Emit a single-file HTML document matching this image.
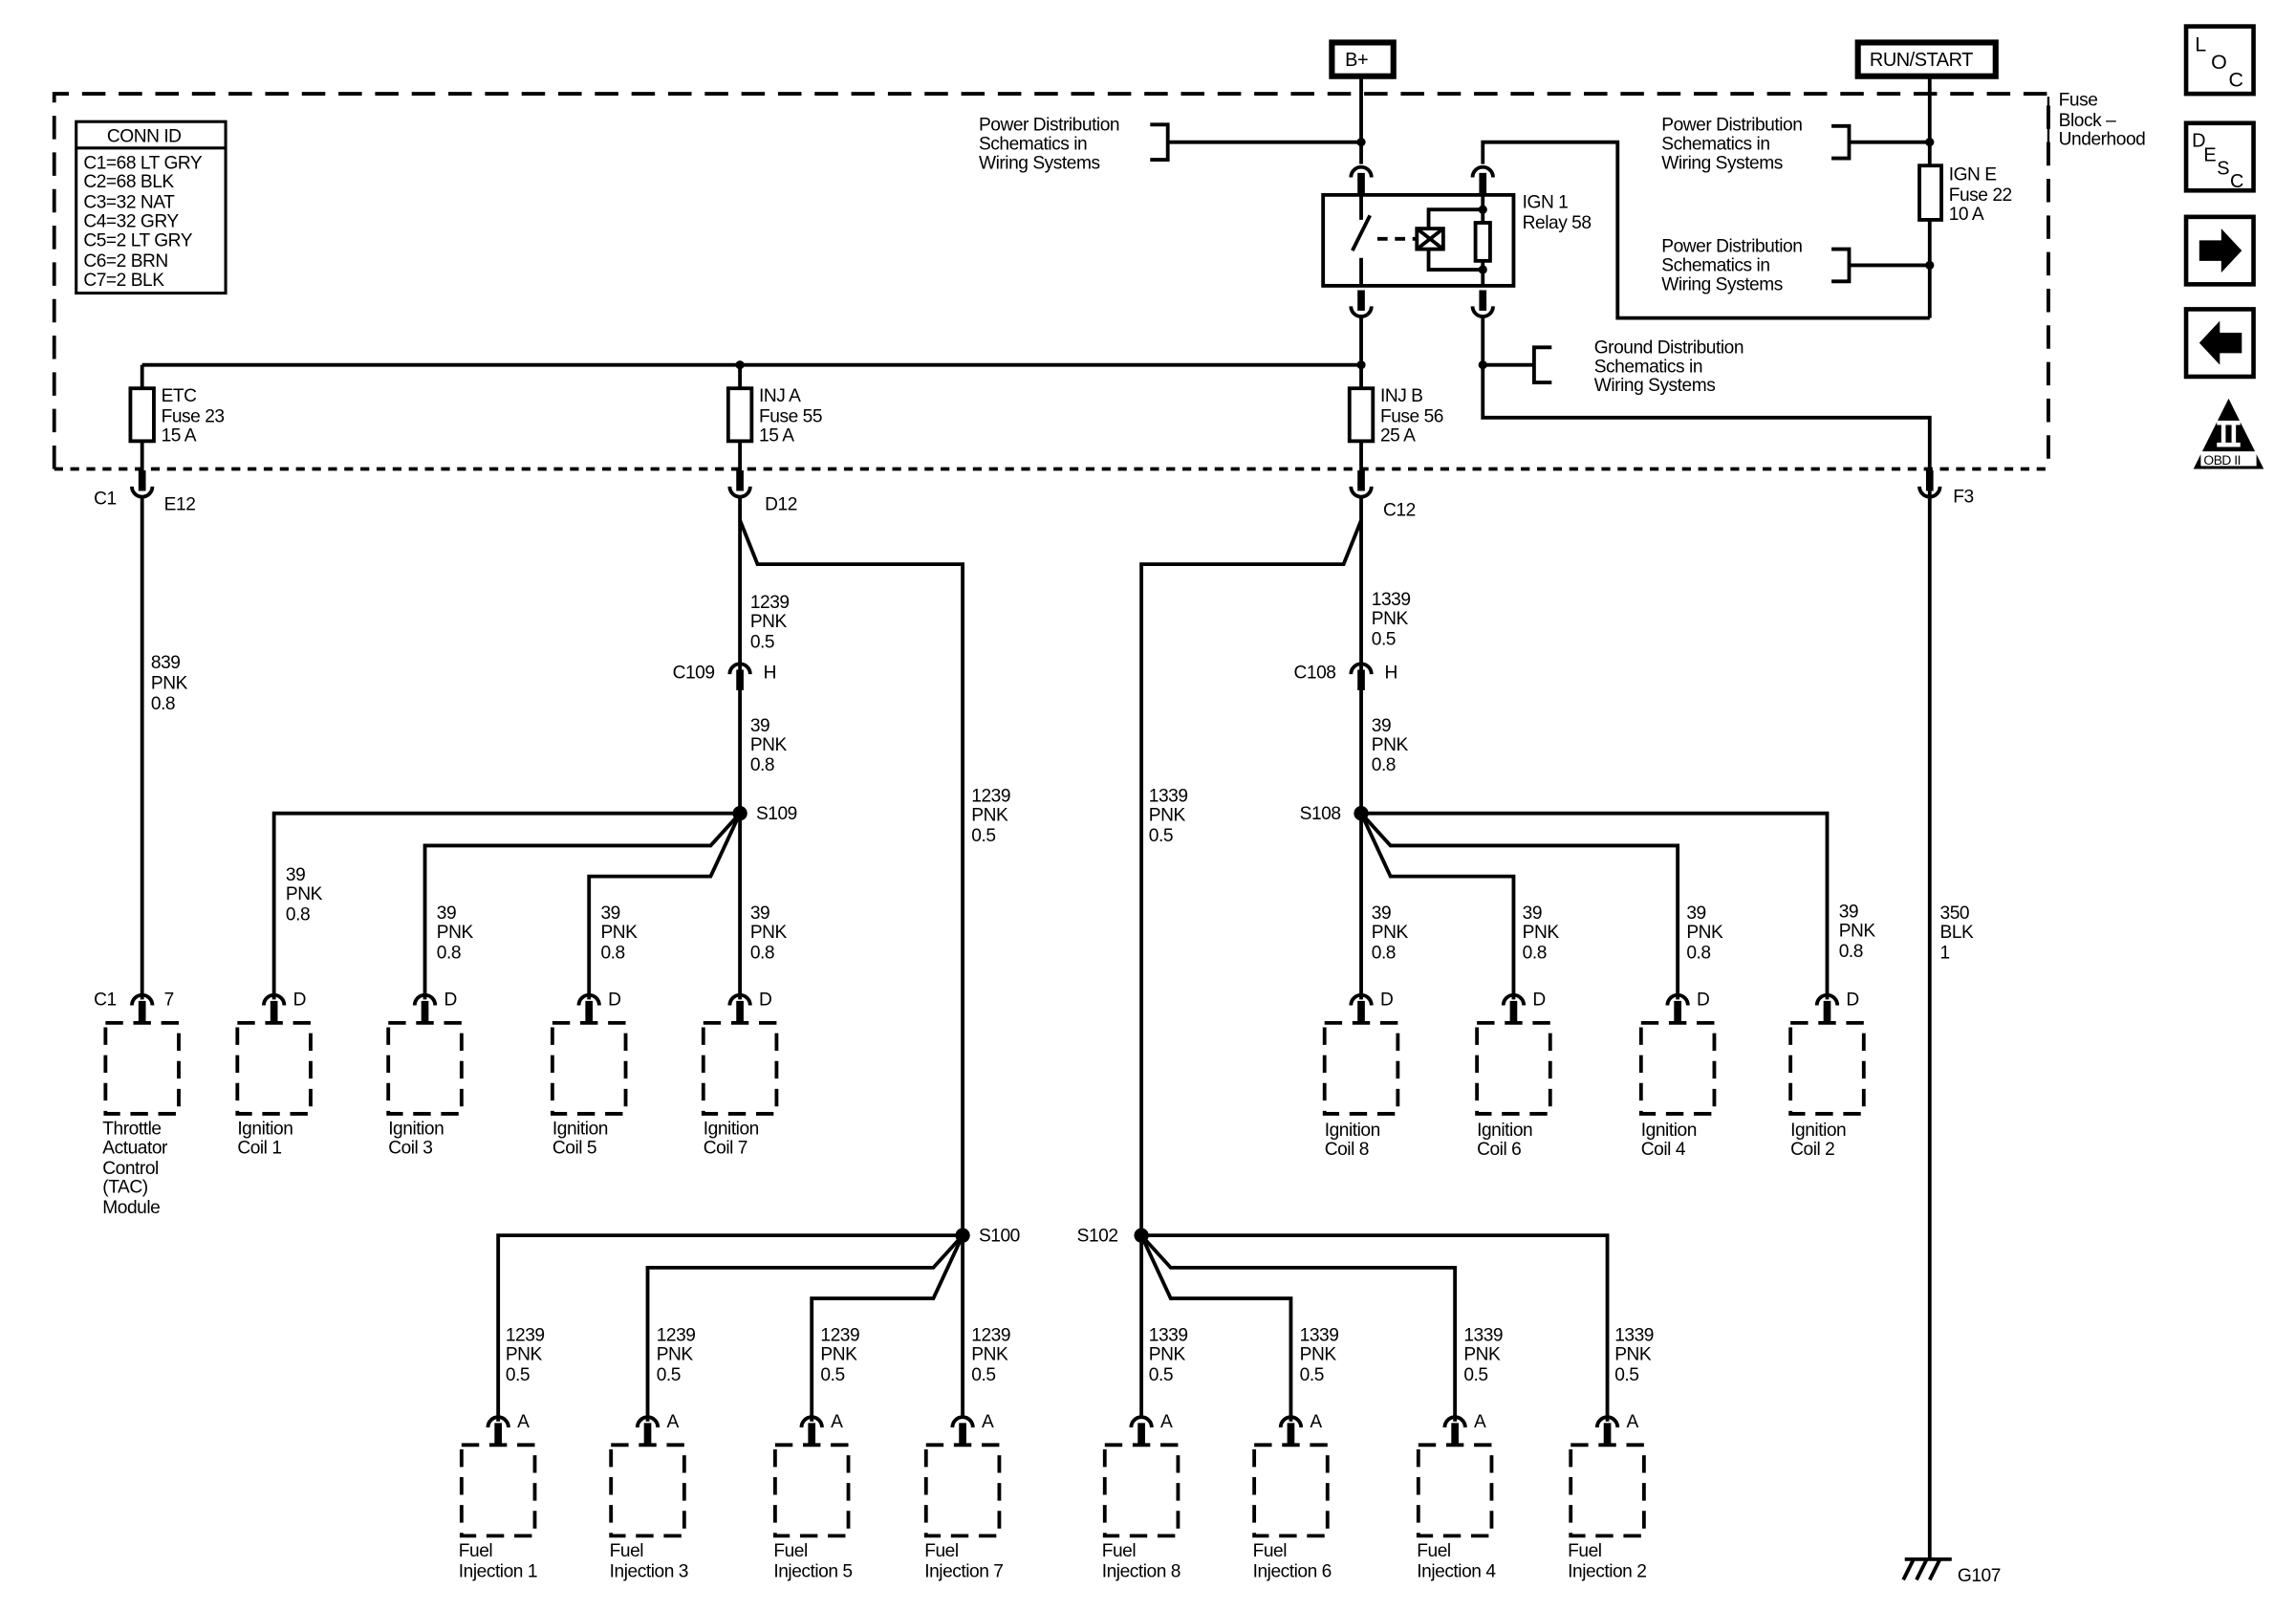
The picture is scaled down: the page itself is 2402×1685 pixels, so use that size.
<!DOCTYPE html>
<html><head><meta charset="utf-8"><style>
html,body{margin:0;padding:0;background:#fff}
svg{display:block}
text{font-family:"Liberation Sans",sans-serif;font-size:12.5px;fill:#000;letter-spacing:-0.3px}
</style></head><body>
<svg width="2402" height="1685" viewBox="0 0 1567 1099.3" preserveAspectRatio="none" xmlns="http://www.w3.org/2000/svg">
<defs>
<g id="cu"><path d="M-7,6 A7,7 0 0 1 7,6" fill="none" stroke="#000" stroke-width="2.5"/><line x1="0" y1="3" x2="0" y2="17" stroke="#000" stroke-width="5"/></g>
<g id="cd"><path d="M-7,-6 A7,7 0 0 0 7,-6" fill="none" stroke="#000" stroke-width="2.5"/><line x1="0" y1="-3" x2="0" y2="-17" stroke="#000" stroke-width="5"/></g>
<rect id="comp" x="-25" y="0" width="50" height="62" fill="none" stroke="#000" stroke-width="2.5" stroke-dasharray="12,7"/>
</defs>
<g stroke="#000" stroke-width="2.5" fill="none">
<path d="M37,320 V64 H1398 V320" stroke-dasharray="16,9"/>
<line x1="37" y1="320" x2="1398" y2="320" stroke-dasharray="6,5"/>
<rect x="909" y="29" width="42" height="23" stroke-width="4"/>
<rect x="1268" y="29" width="94" height="23" stroke-width="4"/>
<line x1="929" y1="52" x2="929" y2="112"/>
<line x1="797" y1="97" x2="929" y2="97"/>
<path d="M785,85 H797 V109 H785"/>
<rect x="903" y="133" width="130" height="62"/>
<path d="M929,133 V150 M935,147 L923,171 M929,176 V195"/>
<line x1="940" y1="163" x2="966" y2="163" stroke-dasharray="7,5"/>
<rect x="967" y="156" width="18" height="14"/>
<path d="M967,156 L985,170 M985,156 L967,170"/>
<rect x="1007" y="152" width="10" height="26"/>
<path d="M1012,133 V152 M1012,178 V195 M975,156 V143 H1012 M975,170 V184 H1012"/>
<path d="M1012,112 V97 H1104 V217 H1317"/>
<line x1="1317" y1="52" x2="1317" y2="113"/>
<rect x="1310" y="113" width="15" height="37"/>
<line x1="1317" y1="150" x2="1317" y2="217"/>
<path d="M1250,86 H1262 V108 H1250 M1262,97 H1317"/>
<path d="M1250,170 H1262 V192 H1250 M1262,181 H1317"/>
<line x1="929" y1="217" x2="929" y2="265"/>
<rect x="921" y="265" width="16" height="36"/>
<line x1="929" y1="301" x2="929" y2="325"/>
<path d="M1012,217 V285 H1317 V1063"/>
<path d="M1012,249 H1047 M1059,237 H1047 V261 H1059"/>
<line x1="97" y1="249" x2="929" y2="249"/>
<line x1="97" y1="249" x2="97" y2="265"/><rect x="89" y="265" width="16" height="36"/><line x1="97" y1="301" x2="97" y2="325"/>
<line x1="505" y1="249" x2="505" y2="265"/><rect x="497" y="265" width="16" height="36"/><line x1="505" y1="301" x2="505" y2="325"/>
<line x1="97" y1="340" x2="97" y2="682"/>
<line x1="505" y1="340" x2="505" y2="682"/>
<path d="M505,355 L517,385 H657 V968"/>
<line x1="929" y1="340" x2="929" y2="682"/>
<path d="M929,355 L917,385 H779 V968"/>
<path d="M505,555 H187 V682"/>
<path d="M505,555 L485,577 H290 V682"/>
<path d="M505,555 L485,598 H402 V682"/>
<path d="M929,555 H1247 V682"/>
<path d="M929,555 L949,577 H1145 V682"/>
<path d="M929,555 L949,598 H1033 V682"/>
<path d="M657,843 H340 V970"/>
<path d="M657,843 L637,865 H442 V970"/>
<path d="M657,843 L637,886 H554 V970"/>
<path d="M779,843 H1097 V970"/>
<path d="M779,843 L799,865 H993 V970"/>
<path d="M779,843 L799,886 H881 V970"/>
<line x1="1300" y1="1064" x2="1332" y2="1064"/>
<path d="M1306,1064 L1299,1078 M1315,1064 L1308,1078 M1324,1064 L1317,1078"/>
<rect x="52" y="83" width="102" height="117" stroke-width="2"/>
<line x1="52" y1="101" x2="154" y2="101" stroke-width="2"/>
<line x1="1398" y1="66" x2="1398" y2="100" stroke-width="1.5"/>
<rect x="1492" y="18" width="46" height="46" stroke-width="3"/>
<rect x="1492" y="84" width="46" height="46" stroke-width="3"/>
<rect x="1492" y="148" width="46" height="46" stroke-width="3"/>
<rect x="1492" y="211" width="46" height="46" stroke-width="3"/>
</g>
<g fill="#000">
<circle cx="929" cy="97" r="3"/><circle cx="1012" cy="143" r="3"/><circle cx="1012" cy="184" r="3"/>
<circle cx="1317" cy="97" r="3"/><circle cx="1317" cy="181" r="3"/>
<circle cx="929" cy="249" r="3"/><circle cx="505" cy="249" r="3"/><circle cx="1012" cy="249" r="3"/>
<circle cx="505" cy="555" r="5"/><circle cx="929" cy="555" r="5"/><circle cx="657" cy="843" r="5"/><circle cx="779" cy="843" r="5"/>
<path d="M1501,164 H1516 V156 L1530,171 L1516,186 V178 H1501 Z"/>
<path d="M1530,227 H1515 V219 L1501,234 L1515,249 V241 H1530 Z"/>
<path d="M1521,272 L1545,320 H1497 Z"/>
<rect x="1513" y="287" width="16" height="3" fill="#fff"/><rect x="1516" y="290" width="3" height="12" fill="#fff"/><rect x="1523" y="290" width="3" height="12" fill="#fff"/><rect x="1513" y="302" width="16" height="3" fill="#fff"/>
<rect x="1502" y="308" width="38" height="10" fill="#fff"/>
</g>
<use href="#cu" x="929" y="115"/><use href="#cu" x="1012" y="115"/>
<use href="#cd" x="929" y="215"/><use href="#cd" x="1012" y="215"/>
<use href="#cd" x="97" y="338"/><use href="#cd" x="505" y="338"/><use href="#cd" x="929" y="338"/><use href="#cd" x="1317" y="338"/>
<use href="#cu" x="505" y="454"/><use href="#cu" x="929" y="454"/>
<use href="#cu" x="97" y="680"/><use href="#cu" x="187" y="680"/><use href="#cu" x="290" y="680"/><use href="#cu" x="402" y="680"/><use href="#cu" x="505" y="680"/>
<use href="#cu" x="929" y="680"/><use href="#cu" x="1033" y="680"/><use href="#cu" x="1145" y="680"/><use href="#cu" x="1247" y="680"/>
<use href="#cu" x="340" y="968"/><use href="#cu" x="442" y="968"/><use href="#cu" x="554" y="968"/><use href="#cu" x="657" y="968"/>
<use href="#cu" x="779" y="968"/><use href="#cu" x="881" y="968"/><use href="#cu" x="993" y="968"/><use href="#cu" x="1097" y="968"/>
<use href="#comp" x="97" y="698"/><use href="#comp" x="187" y="698"/><use href="#comp" x="290" y="698"/><use href="#comp" x="402" y="698"/><use href="#comp" x="505" y="698"/>
<use href="#comp" x="929" y="698"/><use href="#comp" x="1033" y="698"/><use href="#comp" x="1145" y="698"/><use href="#comp" x="1247" y="698"/>
<use href="#comp" x="340" y="986"/><use href="#comp" x="442" y="986"/><use href="#comp" x="554" y="986"/><use href="#comp" x="657" y="986"/>
<use href="#comp" x="779" y="986"/><use href="#comp" x="881" y="986"/><use href="#comp" x="993" y="986"/><use href="#comp" x="1097" y="986"/>
<text x="918" y="45" style="font-size:13px">B+</text>
<text x="1276" y="45" style="font-size:13px">RUN/START</text>
<text x="668" y="89">Power Distribution</text><text x="668" y="102">Schematics in</text><text x="668" y="115">Wiring Systems</text>
<text x="1134" y="89">Power Distribution</text><text x="1134" y="102">Schematics in</text><text x="1134" y="115">Wiring Systems</text>
<text x="1134" y="172">Power Distribution</text><text x="1134" y="185">Schematics in</text><text x="1134" y="198">Wiring Systems</text>
<text x="1088" y="241">Ground Distribution</text><text x="1088" y="254">Schematics in</text><text x="1088" y="267">Wiring Systems</text>
<text x="1039" y="142">IGN 1</text><text x="1039" y="156">Relay 58</text>
<text x="1330" y="123">IGN E</text><text x="1330" y="137">Fuse 22</text><text x="1330" y="150">10 A</text>
<text x="1405" y="72">Fuse</text><text x="1405" y="86">Block –</text><text x="1405" y="99">Underhood</text>
<text x="73" y="97">CONN ID</text>
<text x="57" y="115">C1=68 LT GRY</text><text x="57" y="128">C2=68 BLK</text><text x="57" y="142">C3=32 NAT</text><text x="57" y="155">C4=32 GRY</text><text x="57" y="168">C5=2 LT GRY</text><text x="57" y="182">C6=2 BRN</text><text x="57" y="195">C7=2 BLK</text>
<text x="110" y="274">ETC</text><text x="110" y="288">Fuse 23</text><text x="110" y="301">15 A</text>
<text x="518" y="274">INJ A</text><text x="518" y="288">Fuse 55</text><text x="518" y="301">15 A</text>
<text x="942" y="274">INJ B</text><text x="942" y="288">Fuse 56</text><text x="942" y="301">25 A</text>
<text x="64" y="344">C1</text><text x="112" y="348">E12</text><text x="522" y="348">D12</text><text x="944" y="352">C12</text><text x="1333" y="343">F3</text>
<text x="103" y="456">839</text><text x="103" y="470">PNK</text><text x="103" y="484">0.8</text>
<text x="512" y="415">1239</text><text x="512" y="428">PNK</text><text x="512" y="442">0.5</text>
<text x="459" y="463">C109</text><text x="521" y="463">H</text>
<text x="512" y="499">39</text><text x="512" y="512">PNK</text><text x="512" y="526">0.8</text>
<text x="516" y="559">S109</text>
<text x="936" y="413">1339</text><text x="936" y="426">PNK</text><text x="936" y="440">0.5</text>
<text x="883" y="463">C108</text><text x="945" y="463">H</text>
<text x="936" y="499">39</text><text x="936" y="512">PNK</text><text x="936" y="526">0.8</text>
<text x="887" y="559">S108</text>
<text x="663" y="547">1239</text><text x="663" y="560">PNK</text><text x="663" y="574">0.5</text>
<text x="784" y="547">1339</text><text x="784" y="560">PNK</text><text x="784" y="574">0.5</text>
<text x="195" y="601">39</text><text x="195" y="614">PNK</text><text x="195" y="628">0.8</text>
<text x="298" y="627">39</text><text x="298" y="640">PNK</text><text x="298" y="654">0.8</text>
<text x="410" y="627">39</text><text x="410" y="640">PNK</text><text x="410" y="654">0.8</text>
<text x="512" y="627">39</text><text x="512" y="640">PNK</text><text x="512" y="654">0.8</text>
<text x="936" y="627">39</text><text x="936" y="640">PNK</text><text x="936" y="654">0.8</text>
<text x="1039" y="627">39</text><text x="1039" y="640">PNK</text><text x="1039" y="654">0.8</text>
<text x="1151" y="627">39</text><text x="1151" y="640">PNK</text><text x="1151" y="654">0.8</text>
<text x="1255" y="626">39</text><text x="1255" y="639">PNK</text><text x="1255" y="653">0.8</text>
<text x="1324" y="627">350</text><text x="1324" y="640">BLK</text><text x="1324" y="654">1</text>
<text x="64" y="686">C1</text><text x="112" y="686">7</text>
<text x="200" y="686">D</text><text x="303" y="686">D</text><text x="415" y="686">D</text><text x="518" y="686">D</text>
<text x="942" y="686">D</text><text x="1046" y="686">D</text><text x="1158" y="686">D</text><text x="1260" y="686">D</text>
<text x="70" y="774">Throttle</text><text x="70" y="787">Actuator</text><text x="70" y="801">Control</text><text x="70" y="814">(TAC)</text><text x="70" y="828">Module</text>
<text x="162" y="774">Ignition</text><text x="162" y="787">Coil 1</text>
<text x="265" y="774">Ignition</text><text x="265" y="787">Coil 3</text>
<text x="377" y="774">Ignition</text><text x="377" y="787">Coil 5</text>
<text x="480" y="774">Ignition</text><text x="480" y="787">Coil 7</text>
<text x="904" y="775">Ignition</text><text x="904" y="788">Coil 8</text>
<text x="1008" y="775">Ignition</text><text x="1008" y="788">Coil 6</text>
<text x="1120" y="775">Ignition</text><text x="1120" y="788">Coil 4</text>
<text x="1222" y="775">Ignition</text><text x="1222" y="788">Coil 2</text>
<text x="668" y="847">S100</text><text x="735" y="847">S102</text>
<text x="345" y="915">1239</text><text x="345" y="928">PNK</text><text x="345" y="942">0.5</text>
<text x="448" y="915">1239</text><text x="448" y="928">PNK</text><text x="448" y="942">0.5</text>
<text x="560" y="915">1239</text><text x="560" y="928">PNK</text><text x="560" y="942">0.5</text>
<text x="663" y="915">1239</text><text x="663" y="928">PNK</text><text x="663" y="942">0.5</text>
<text x="784" y="915">1339</text><text x="784" y="928">PNK</text><text x="784" y="942">0.5</text>
<text x="887" y="915">1339</text><text x="887" y="928">PNK</text><text x="887" y="942">0.5</text>
<text x="999" y="915">1339</text><text x="999" y="928">PNK</text><text x="999" y="942">0.5</text>
<text x="1102" y="915">1339</text><text x="1102" y="928">PNK</text><text x="1102" y="942">0.5</text>
<text x="353" y="974">A</text><text x="455" y="974">A</text><text x="567" y="974">A</text><text x="670" y="974">A</text>
<text x="792" y="974">A</text><text x="894" y="974">A</text><text x="1006" y="974">A</text><text x="1110" y="974">A</text>
<text x="313" y="1062">Fuel</text><text x="313" y="1076">Injection 1</text>
<text x="416" y="1062">Fuel</text><text x="416" y="1076">Injection 3</text>
<text x="528" y="1062">Fuel</text><text x="528" y="1076">Injection 5</text>
<text x="631" y="1062">Fuel</text><text x="631" y="1076">Injection 7</text>
<text x="752" y="1062">Fuel</text><text x="752" y="1076">Injection 8</text>
<text x="855" y="1062">Fuel</text><text x="855" y="1076">Injection 6</text>
<text x="967" y="1062">Fuel</text><text x="967" y="1076">Injection 4</text>
<text x="1070" y="1062">Fuel</text><text x="1070" y="1076">Injection 2</text>
<text x="1336" y="1079">G107</text>
<text x="1498" y="35" style="font-size:14px">L</text><text x="1509" y="47" style="font-size:14px">O</text><text x="1521" y="59" style="font-size:14px">C</text>
<text x="1496" y="100" style="font-size:13px">D</text><text x="1504" y="110" style="font-size:13px">E</text><text x="1513" y="119" style="font-size:13px">S</text><text x="1522" y="128" style="font-size:13px">C</text>
<text x="1504" y="317" style="font-size:9px">OBD II</text>
</svg>
</body></html>
